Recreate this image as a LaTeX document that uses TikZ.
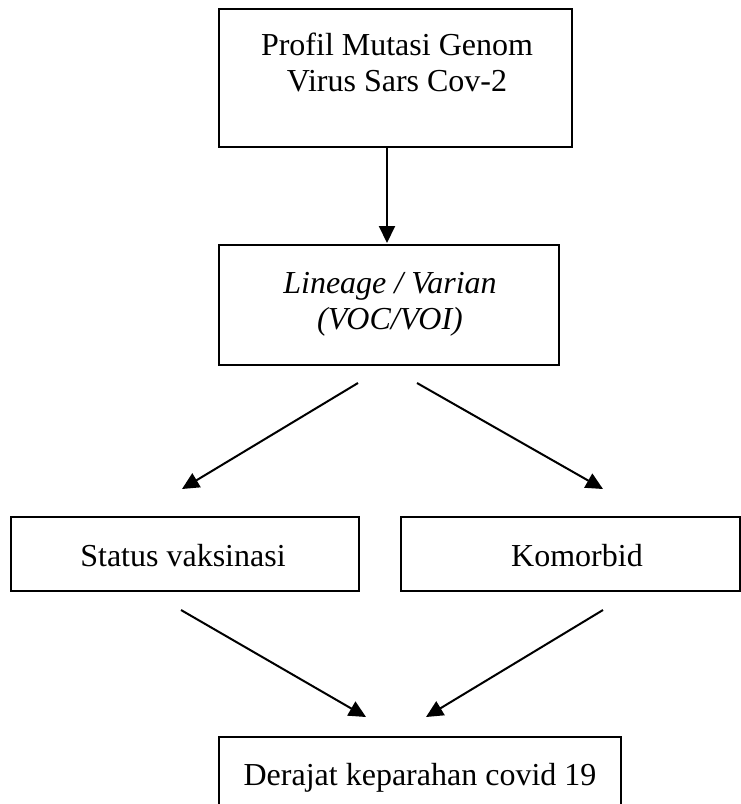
\documentclass[tikz,border=0pt]{standalone}
\usepackage{fontspec}
\setmainfont{Liberation Serif}
\usetikzlibrary{arrows.meta}
\begin{document}
\begin{tikzpicture}[x=1pt,y=-1pt,
  boxnode/.style={draw=black, line width=2pt, inner sep=0pt, fill=none},
  txt/.style={inner sep=0pt, align=center, font=\fontsize{32}{36}\selectfont},
  conn/.style={line width=2pt, -{Triangle[length=17pt,width=16pt]}}]
\useasboundingbox (0,0) rectangle (740,804);
\fill[white] (0,0) rectangle (740,804);
% boxes
\node[boxnode, minimum width=353pt, minimum height=138pt] (b1) at (395.5,78) {};
\node[boxnode, minimum width=340pt, minimum height=120pt] (b2) at (389,305) {};
\node[boxnode, minimum width=348pt, minimum height=74pt] (b3) at (185,554) {};
\node[boxnode, minimum width=339pt, minimum height=74pt] (b4) at (570.5,554) {};
\node[boxnode, minimum width=402pt, minimum height=80pt] (b5) at (420,777) {};
% texts
\node[txt, anchor=base] (t1) at (397,91) {Profil Mutasi Genom\\Virus Sars Cov-2};
\node[txt, anchor=base, font=\fontsize{32}{36}\selectfont\itshape] (t2) at (390,329) {Lineage / Varian\\(VOC/VOI)};
\node[txt, anchor=base] (t3) at (183,566) {Status vaksinasi};
\node[txt, anchor=base] (t4) at (577,566) {Komorbid};
\node[txt, anchor=base] (t5) at (420,785) {Derajat keparahan covid 19};
% connector ends
\coordinate (a1s) at (387,147);
\coordinate (a1e) at (387,243);
\coordinate (a2s) at (358,383);
\coordinate (a2e) at (182,489);
\coordinate (a3s) at (417,383);
\coordinate (a3e) at (603,489);
\coordinate (a4s) at (181,610);
\coordinate (a4e) at (366,717);
\coordinate (a5s) at (603,610);
\coordinate (a5e) at (426,717);
\draw[conn] (a1s) -- (a1e);
\draw[conn] (a2s) -- (a2e);
\draw[conn] (a3s) -- (a3e);
\draw[conn] (a4s) -- (a4e);
\draw[conn] (a5s) -- (a5e);
\end{tikzpicture}
\end{document}
